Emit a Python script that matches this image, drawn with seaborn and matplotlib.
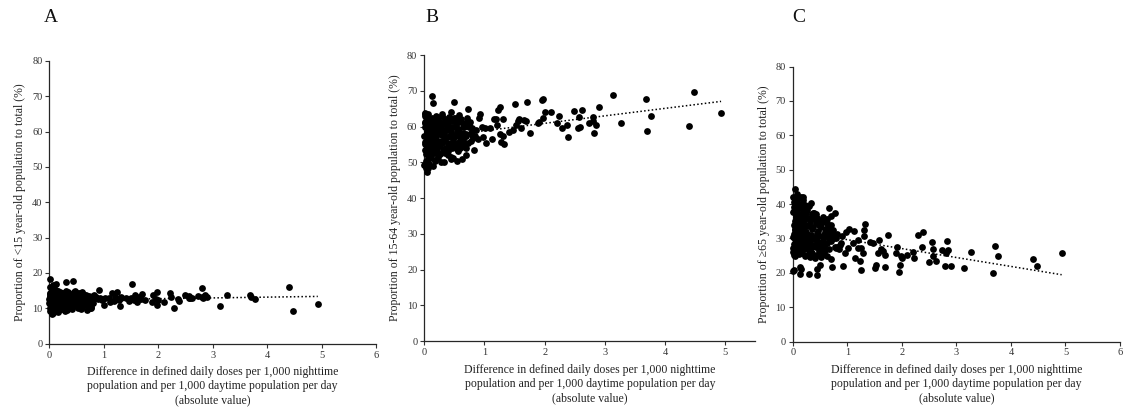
import matplotlib
matplotlib.use("Agg")
import matplotlib.pyplot as plt
import seaborn as sns
import pandas as pd

# x: |difference in DDD per 1,000 nighttime vs daytime population per day|
# the same municipalities appear in all three panels
X_DIFF = [
    # sparse part (x > ~0.6)
    4.93, 4.48, 4.40, 3.77, 3.70, 3.68, 3.27, 3.14, 2.90, 2.85,
    2.82, 2.80, 2.81, 2.73, 2.62, 2.58, 2.56, 2.57, 2.49, 2.38,
    2.37, 2.29, 2.23, 2.21, 2.10, 2.00, 1.98, 1.97, 1.95, 1.91,
    1.89, 1.75, 1.70, 1.69, 1.65, 1.61, 1.58, 1.56, 1.52, 1.50,
    1.47, 1.41, 1.32, 1.31, 1.30, 1.28, 1.26, 1.25, 1.23, 1.20,
    1.19, 1.15, 1.12, 1.10, 1.03, 1.01, 0.98, 0.96, 0.93, 0.91,
    0.89, 0.85, 0.82, 0.80, 0.78, 0.75, 0.72, 0.71, 0.70, 0.70,
    0.66, 0.62,
    # single points at the edges of the cluster
    0.02, 0.01, 0.13, 0.30, 0.44, 0.04, 0.07, 0.13, 0.15, 0.15,
    0.50, 0.33, 0.39, 0.45, 0.18,
    # dense cluster
    0.00, 0.01, 0.01, 0.02, 0.02, 0.03, 0.03, 0.04, 0.04, 0.05,
    0.05, 0.06, 0.06, 0.07, 0.07, 0.08, 0.08, 0.09, 0.09, 0.10,
    0.10, 0.11, 0.11, 0.12, 0.12, 0.13, 0.13, 0.14, 0.14, 0.15,
    0.15, 0.16, 0.16, 0.17, 0.17, 0.18, 0.18, 0.19, 0.19, 0.20,
    0.20, 0.21, 0.21, 0.22, 0.22, 0.23, 0.23, 0.24, 0.24, 0.25,
    0.25, 0.26, 0.26, 0.27, 0.28, 0.28, 0.29, 0.30, 0.30, 0.31,
    0.32, 0.32, 0.33, 0.34, 0.34, 0.35, 0.36, 0.36, 0.37, 0.38,
    0.39, 0.40, 0.40, 0.41, 0.42, 0.43, 0.44, 0.45, 0.45, 0.46,
    0.47, 0.48, 0.49, 0.50, 0.51, 0.52, 0.53, 0.54, 0.55, 0.56,
    0.57, 0.58, 0.59, 0.60, 0.61, 0.63, 0.64, 0.65, 0.67, 0.69,
    0.00, 0.01, 0.02, 0.03, 0.04, 0.05, 0.06, 0.07, 0.08, 0.09,
    0.02, 0.03, 0.05, 0.06, 0.08, 0.10, 0.12, 0.14, 0.16, 0.18,
    0.41, 0.44, 0.48, 0.52, 0.56, 0.60, 0.63, 0.68, 0.73, 0.77,
    0.36, 0.42, 0.47, 0.53, 0.58, 0.62, 0.66, 0.70, 0.74, 0.81,
    0.38, 0.46, 0.51, 0.55, 0.59, 0.64, 0.68, 0.76, 0.79, 0.86,
]

# proportion of <15 year-old population (%)
Y_U15 = [
    11.1, 9.1, 16.1, 12.5, 13.1, 13.8, 13.8, 10.5, 13.3, 13.7,
    12.8, 15.8, 13.3, 13.5, 12.9, 12.8, 13.5, 13.0, 13.8, 12.1,
    12.5, 10.2, 13.1, 14.2, 11.9, 12.4, 10.9, 14.7, 12.6, 13.8,
    11.9, 12.3, 14.0, 12.6, 13.3, 11.9, 13.8, 12.4, 16.8, 12.8,
    12.1, 12.8, 12.9, 13.3, 10.7, 12.3, 12.7, 14.7, 12.5, 13.2,
    12.0, 14.4, 11.9, 13.0, 12.8, 10.9, 12.5, 12.3, 12.9, 15.2,
    12.6, 13.2, 13.8, 11.5, 12.0, 10.0, 13.5, 12.4, 11.8, 12.9,
    13.0, 11.2,
    18.2, 16.1, 16.8, 17.4, 17.8, 8.3, 8.6, 11.2, 12.5, 9.0,
    10.8, 9.5, 10.2, 13.5, 10.5,
    12.5, 10.2, 14.1, 11.3, 13.6, 9.8, 12.9, 15.2, 11.0, 13.4,
    10.6, 12.2, 14.6, 9.5, 11.8, 13.1, 10.9, 12.7, 15.6, 11.4,
    13.8, 10.3, 12.0, 14.3, 11.6, 9.7, 13.0, 12.4, 10.8, 14.8,
    11.2, 13.5, 10.1, 12.6, 14.0, 11.7, 9.4, 13.3, 12.1, 10.7,
    14.5, 11.9, 12.8, 10.4, 13.7, 12.3, 9.9, 14.2, 11.5, 13.0,
    10.9, 12.6, 14.4, 11.1, 9.3, 13.2, 12.0, 10.6, 15.0, 12.4,
    11.8, 13.9, 10.5, 12.7, 14.7, 11.3, 12.2, 10.8, 13.4, 12.0,
    13.1, 10.9, 12.5, 14.1, 11.6, 13.5, 10.7, 12.8, 11.4, 14.4,
    12.2, 11.0, 13.6, 12.4, 10.6, 14.2, 11.9, 13.0, 12.6, 11.3,
    13.3, 12.1, 10.8, 14.6, 12.7, 11.5, 13.8, 12.3, 11.1, 13.0,
    11.5, 13.2, 9.2, 14.0, 10.4, 12.6, 16.5, 11.1, 13.7, 9.6,
    14.4, 9.1, 12.3, 10.8, 13.9, 12.1, 10.0, 14.9, 11.7, 12.9,
    9.9, 12.8, 13.5, 11.0, 14.2, 10.4, 12.5, 11.2, 13.1, 10.3,
    13.0, 11.6, 15.0, 10.1, 12.6, 14.1, 11.3, 9.6, 12.2, 13.6,
    10.7, 14.6, 11.9, 13.3, 9.8, 12.0, 13.8, 10.2, 11.5, 12.9,
]

# proportion of 15-64 year-old population (%)
Y_1564 = [
    63.8, 69.8, 60.2, 63.1, 58.8, 67.8, 60.9, 68.9, 65.5, 60.5,
    58.1, 62.7, 61.7, 60.9, 64.5, 60.0, 59.5, 62.8, 64.3, 57.1,
    60.5, 59.5, 63.0, 61.0, 64.0, 64.0, 62.3, 67.8, 67.3, 61.2,
    61.0, 58.2, 67.0, 61.5, 61.8, 59.5, 62.0, 61.5, 60.5, 66.2,
    59.0, 58.5, 55.0, 57.5, 62.0, 55.6, 58.0, 65.5, 64.5, 60.5,
    62.0, 62.0, 56.5, 59.5, 55.5, 59.5, 57.0, 60.0, 63.5, 62.5,
    56.5, 57.5, 53.5, 59.5, 56.0, 60.0, 65.0, 62.5, 54.0, 58.0,
    57.0, 51.0,
    61.0, 63.5, 62.5, 63.0, 62.0, 47.2, 48.5, 68.5, 66.5, 49.0,
    67.0, 50.0, 52.0, 64.0, 50.5,
    57.5, 61.2, 53.4, 59.8, 55.1, 62.6, 50.3, 58.4, 54.7, 60.5,
    56.2, 52.1, 59.1, 63.4, 55.8, 49.6, 58.9, 61.8, 53.0, 57.2,
    60.1, 54.5, 56.9, 51.8, 62.2, 58.0, 55.3, 59.6, 53.7, 57.8,
    61.5, 52.9, 58.6, 55.6, 60.8, 50.7, 57.4, 63.0, 54.2, 59.3,
    56.5, 61.0, 53.1, 58.2, 55.0, 62.4, 51.5, 57.9, 60.2, 54.6,
    58.8, 52.4, 61.4, 56.1, 59.7, 50.2, 63.6, 55.4, 57.6, 53.8,
    60.6, 55.9, 58.3, 52.6, 62.0, 56.8, 59.0, 54.0, 61.1, 57.1,
    55.5, 59.4, 53.3, 62.8, 57.3, 60.0, 54.9, 58.5, 51.6, 61.6,
    56.6, 59.9, 54.4, 62.3, 57.7, 55.2, 60.4, 53.6, 58.7, 61.3,
    55.7, 59.2, 57.0, 53.9, 62.1, 56.3, 60.7, 58.1, 54.8, 57.5,
    49.2, 63.8, 55.7, 52.3, 61.9, 58.5, 50.8, 60.3, 53.5, 56.4,
    62.9, 48.3, 57.1, 54.1, 59.5, 51.2, 61.7, 55.8, 58.6, 52.7,
    59.0, 50.9, 56.0, 62.5, 53.2, 57.9, 54.5, 60.9, 55.4, 58.3,
    54.0, 61.6, 51.1, 57.4, 63.2, 55.1, 59.8, 52.0, 60.5, 56.7,
    60.2, 53.9, 62.0, 50.4, 58.0, 56.2, 54.3, 61.4, 57.6, 59.1,
]

# proportion of >=65 year-old population (%)
Y_65 = [
    25.7, 22.0, 24.1, 24.9, 27.8, 19.9, 26.1, 21.3, 22.0, 26.5,
    29.3, 22.0, 25.7, 26.5, 23.4, 26.9, 28.9, 24.9, 23.0, 32.0,
    27.4, 30.9, 24.3, 26.0, 25.1, 24.2, 24.9, 22.3, 20.2, 27.6,
    25.9, 30.9, 21.6, 25.1, 26.3, 26.9, 29.6, 25.7, 22.3, 21.3,
    28.6, 29.1, 34.2, 32.5, 30.6, 25.7, 27.2, 20.7, 23.3, 29.6,
    27.2, 24.2, 32.3, 28.6, 32.8, 27.2, 31.8, 25.7, 22.1, 30.7,
    28.6, 27.0, 27.6, 27.2, 37.5, 30.0, 21.8, 36.4, 33.9, 24.0,
    38.8, 35.7,
    20.8, 20.4, 19.7, 19.6, 19.4, 44.5, 42.9, 21.8, 21.0, 42.0,
    22.2, 40.3, 37.3, 21.2, 42.2,
    30.5, 37.8, 26.1, 33.9, 28.4, 40.6, 25.3, 35.1, 29.7, 38.5,
    32.4, 27.0, 36.3, 31.2, 41.5, 26.7, 34.6, 29.0, 39.3, 28.1,
    33.5, 25.6, 37.1, 30.0, 35.8, 27.7, 40.1, 31.8, 26.4, 34.2,
    29.3, 38.9, 27.4, 32.9, 25.9, 36.8, 30.8, 41.2, 28.8, 33.1,
    35.4, 26.9, 31.5, 39.7, 28.2, 34.0, 24.8, 37.4, 30.2, 27.8,
    32.0, 36.0, 25.2, 38.2, 29.5, 33.6, 26.5, 39.5, 30.9, 28.5,
    34.8, 24.5, 31.0, 35.6, 27.2, 32.6, 37.0, 25.8, 29.9, 33.3,
    28.0, 36.6, 30.4, 24.3, 34.4, 27.5, 31.6, 25.1, 35.9, 29.1,
    32.2, 26.2, 33.8, 28.7, 35.2, 24.6, 30.6, 27.1, 34.7, 29.4,
    31.1, 25.5, 35.0, 28.3, 32.8, 24.9, 30.3, 33.7, 26.8, 29.6,
    42.0, 27.3, 38.0, 31.4, 40.9, 25.0, 36.5, 29.8, 34.3, 41.8,
    26.0, 39.0, 32.7, 28.9, 37.6, 30.1, 35.5, 27.9, 33.0, 38.4,
    36.0, 29.2, 34.9, 26.3, 36.2, 31.9, 28.6, 33.5, 32.5, 27.6,
    36.9, 37.0, 30.7, 35.3, 27.0, 34.5, 33.4, 29.3, 31.0, 31.3,
    37.5, 28.2, 33.2, 35.0, 26.6, 33.0, 31.7, 30.5, 30.0, 28.0,
]

PANEL_LETTERS = ["A", "B", "C"]
Y_LABELS = [
    "Proportion of <15 year-old population to total (%)",
    "Proportion of 15-64 year-old population to total (%)",
    "Proportion of \u226565 year-old population to total (%)",
]
X_LABEL = ("Difference in defined daily doses per 1,000 nighttime\n"
           "population and per 1,000 daytime population per day\n"
           "(absolute value)")

df = pd.DataFrame({"diff": X_DIFF, "u15": Y_U15, "a1564": Y_1564, "o65": Y_65})

sns.set_style("ticks")
plt.rcParams["font.family"] = ["Liberation Serif", "DejaVu Serif"]
plt.rcParams["axes.linewidth"] = 0.9

fig = plt.figure(figsize=(11.32, 4.11), dpi=100)

# axes boxes in figure fractions (left, bottom, width, height)
boxes = [
    (0.0436, 0.164, 0.2886, 0.688),
    (0.3748, 0.170, 0.2925, 0.696),
    (0.7003, 0.169, 0.2891, 0.669),
]
xmax = [6, 5.5, 6]
letter_x = [51, 432, 799]

for i, col in enumerate(["u15", "a1564", "o65"]):
    ax = fig.add_axes(boxes[i])
    sns.scatterplot(data=df, x="diff", y=col, ax=ax, color="black",
                    s=24, linewidth=0, zorder=3, clip_on=False)
    sns.regplot(data=df, x="diff", y=col, ax=ax, scatter=False, ci=None,
                color="black", line_kws={"linestyle": (0, (1, 1.5)), "linewidth": 1.1})
    ax.set_xlim(0, xmax[i])
    ax.set_ylim(0, 80)
    ax.set_xticks(range(0, 6 if xmax[i] < 6 else 7))
    ax.set_yticks(range(0, 81, 10))
    ax.tick_params(labelsize=7.5, length=3, width=0.8, colors="#333333",
                   labelcolor="#333333", pad=2)
    ax.set_xlabel(X_LABEL, fontsize=8.5, labelpad=5, color="#222222",
                  linespacing=1.22)
    ax.set_ylabel(Y_LABELS[i], fontsize=8.5, labelpad=4, color="#222222")
    sns.despine(ax=ax)
    fig.text(letter_x[i] / 1132, 1 - 18 / 411, PANEL_LETTERS[i],
             fontsize=14, ha="center", va="center", color="#111111")

fig.savefig("out.png", dpi=100)
